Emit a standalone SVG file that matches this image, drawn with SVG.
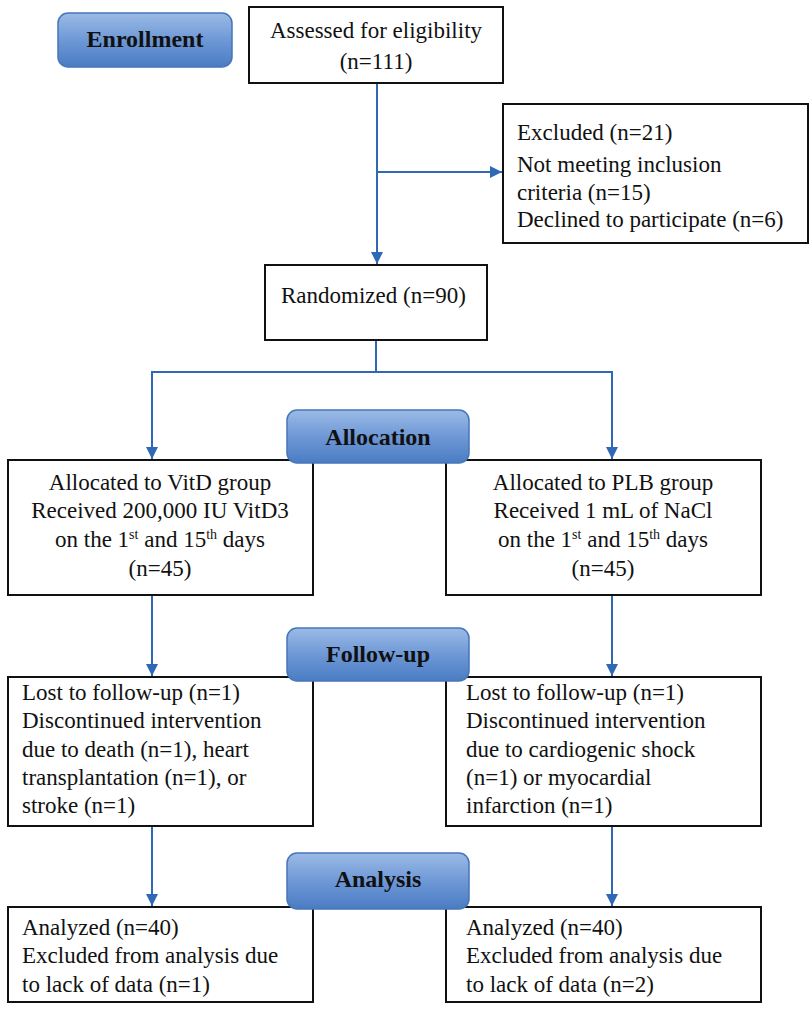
<svg xmlns="http://www.w3.org/2000/svg" width="812" height="1010" viewBox="0 0 812 1010">
<style>
.box{fill:#fff;stroke:#111;stroke-width:2}
.pill{fill:url(#pg);stroke:#4676b8;stroke-width:1.5}
.t{font-family:"Liberation Serif","Times New Roman",serif;font-size:23px;fill:#111}
.c{text-anchor:middle}
.pt{font-family:"Liberation Serif","Times New Roman",serif;font-size:24px;font-weight:bold;fill:#111;text-anchor:middle}
.sup{font-size:14px}
.ln{fill:none;stroke:#2f69b6;stroke-width:2}
</style>
<defs>
<linearGradient id="pg" x1="0" y1="0" x2="0" y2="1">
<stop offset="0" stop-color="#9bbbe6"/>
<stop offset="0.5" stop-color="#6e98d6"/>
<stop offset="1" stop-color="#4a7cc3"/>
</linearGradient>
<marker id="ah" viewBox="0 0 10 10" refX="10" refY="5" markerWidth="6" markerHeight="6" orient="auto" markerUnits="strokeWidth">
<path d="M0,0 L10,5 L0,10 z" fill="#2f69b6"/>
</marker>
</defs>
<rect width="812" height="1010" fill="#fff"/>

<g id="connectors">
<path class="ln" d="M377,83 V264" marker-end="url(#ah)"/>
<path class="ln" d="M377,172 H502" marker-end="url(#ah)"/>
<path class="ln" d="M376,340 V372"/>
<path class="ln" d="M152,372 H612"/>
<path class="ln" d="M152,371 V459" marker-end="url(#ah)"/>
<path class="ln" d="M612,371 V459" marker-end="url(#ah)"/>
<path class="ln" d="M152,595 V676" marker-end="url(#ah)"/>
<path class="ln" d="M612,595 V676" marker-end="url(#ah)"/>
<path class="ln" d="M152,826 V906" marker-end="url(#ah)"/>
<path class="ln" d="M612,826 V906" marker-end="url(#ah)"/>
</g>

<g id="enrollment">
<rect class="pill" x="58" y="13" width="174" height="54" rx="10"/>
<text class="pt" x="145" y="47">Enrollment</text>
</g>

<g id="assessed">
<rect class="box" x="249" y="7" width="254" height="76"/>
<text class="t c" x="376" y="38">Assessed for eligibility</text>
<text class="t c" x="376" y="69">(n=111)</text>
</g>

<g id="excluded">
<rect class="box" x="503" y="104" width="305" height="139"/>
<text class="t" x="517" y="140">Excluded (n=21)</text>
<text class="t" x="517" y="172">Not meeting inclusion</text>
<text class="t" x="517" y="200">criteria (n=15)</text>
<text class="t" x="517" y="227">Declined to participate (n=6)</text>
</g>

<g id="randomized">
<rect class="box" x="265" y="265" width="222" height="75"/>
<text class="t" x="281" y="303">Randomized (n=90)</text>
</g>

<g id="vitd-alloc">
<rect class="box" x="8" y="460" width="305" height="135"/>
<text class="t c" x="160" y="490">Allocated to VitD group</text>
<text class="t c" x="160" y="518">Received 200,000 IU VitD3</text>
<text class="t c" x="160" y="547">on the 1<tspan class="sup" dy="-8">st</tspan><tspan dy="8"> and 15</tspan><tspan class="sup" dy="-8">th</tspan><tspan dy="8"> days</tspan></text>
<text class="t c" x="160" y="576">(n=45)</text>
</g>

<g id="plb-alloc">
<rect class="box" x="446" y="460" width="315" height="135"/>
<text class="t c" x="603" y="490">Allocated to PLB group</text>
<text class="t c" x="603" y="518">Received 1 mL of NaCl</text>
<text class="t c" x="603" y="547">on the 1<tspan class="sup" dy="-8">st</tspan><tspan dy="8"> and 15</tspan><tspan class="sup" dy="-8">th</tspan><tspan dy="8"> days</tspan></text>
<text class="t c" x="603" y="576">(n=45)</text>
</g>

<g id="allocation">
<rect class="pill" x="287" y="410" width="182" height="53" rx="10"/>
<text class="pt" x="378" y="445">Allocation</text>
</g>

<g id="vitd-follow">
<rect class="box" x="8" y="677" width="305" height="149"/>
<text class="t" x="22" y="700">Lost to follow-up (n=1)</text>
<text class="t" x="22" y="728">Discontinued intervention</text>
<text class="t" x="22" y="757">due to death (n=1), heart</text>
<text class="t" x="22" y="785">transplantation (n=1), or</text>
<text class="t" x="22" y="813">stroke (n=1)</text>
</g>

<g id="plb-follow">
<rect class="box" x="446" y="677" width="315" height="149"/>
<text class="t" x="466" y="700">Lost to follow-up (n=1)</text>
<text class="t" x="466" y="728">Discontinued intervention</text>
<text class="t" x="466" y="757">due to cardiogenic shock</text>
<text class="t" x="466" y="785">(n=1) or myocardial</text>
<text class="t" x="466" y="813">infarction (n=1)</text>
</g>

<g id="followup">
<rect class="pill" x="287" y="628" width="182" height="53" rx="10"/>
<text class="pt" x="378" y="662">Follow-up</text>
</g>

<g id="vitd-analysis">
<rect class="box" x="8" y="907" width="305" height="95"/>
<text class="t" x="22" y="935">Analyzed (n=40)</text>
<text class="t" x="22" y="963">Excluded from analysis due</text>
<text class="t" x="22" y="992">to lack of data (n=1)</text>
</g>

<g id="plb-analysis">
<rect class="box" x="446" y="907" width="315" height="95"/>
<text class="t" x="466" y="935">Analyzed (n=40)</text>
<text class="t" x="466" y="963">Excluded from analysis due</text>
<text class="t" x="466" y="992">to lack of data (n=2)</text>
</g>

<g id="analysis">
<rect class="pill" x="287" y="853" width="182" height="56" rx="10"/>
<text class="pt" x="378" y="887">Analysis</text>
</g>
</svg>
